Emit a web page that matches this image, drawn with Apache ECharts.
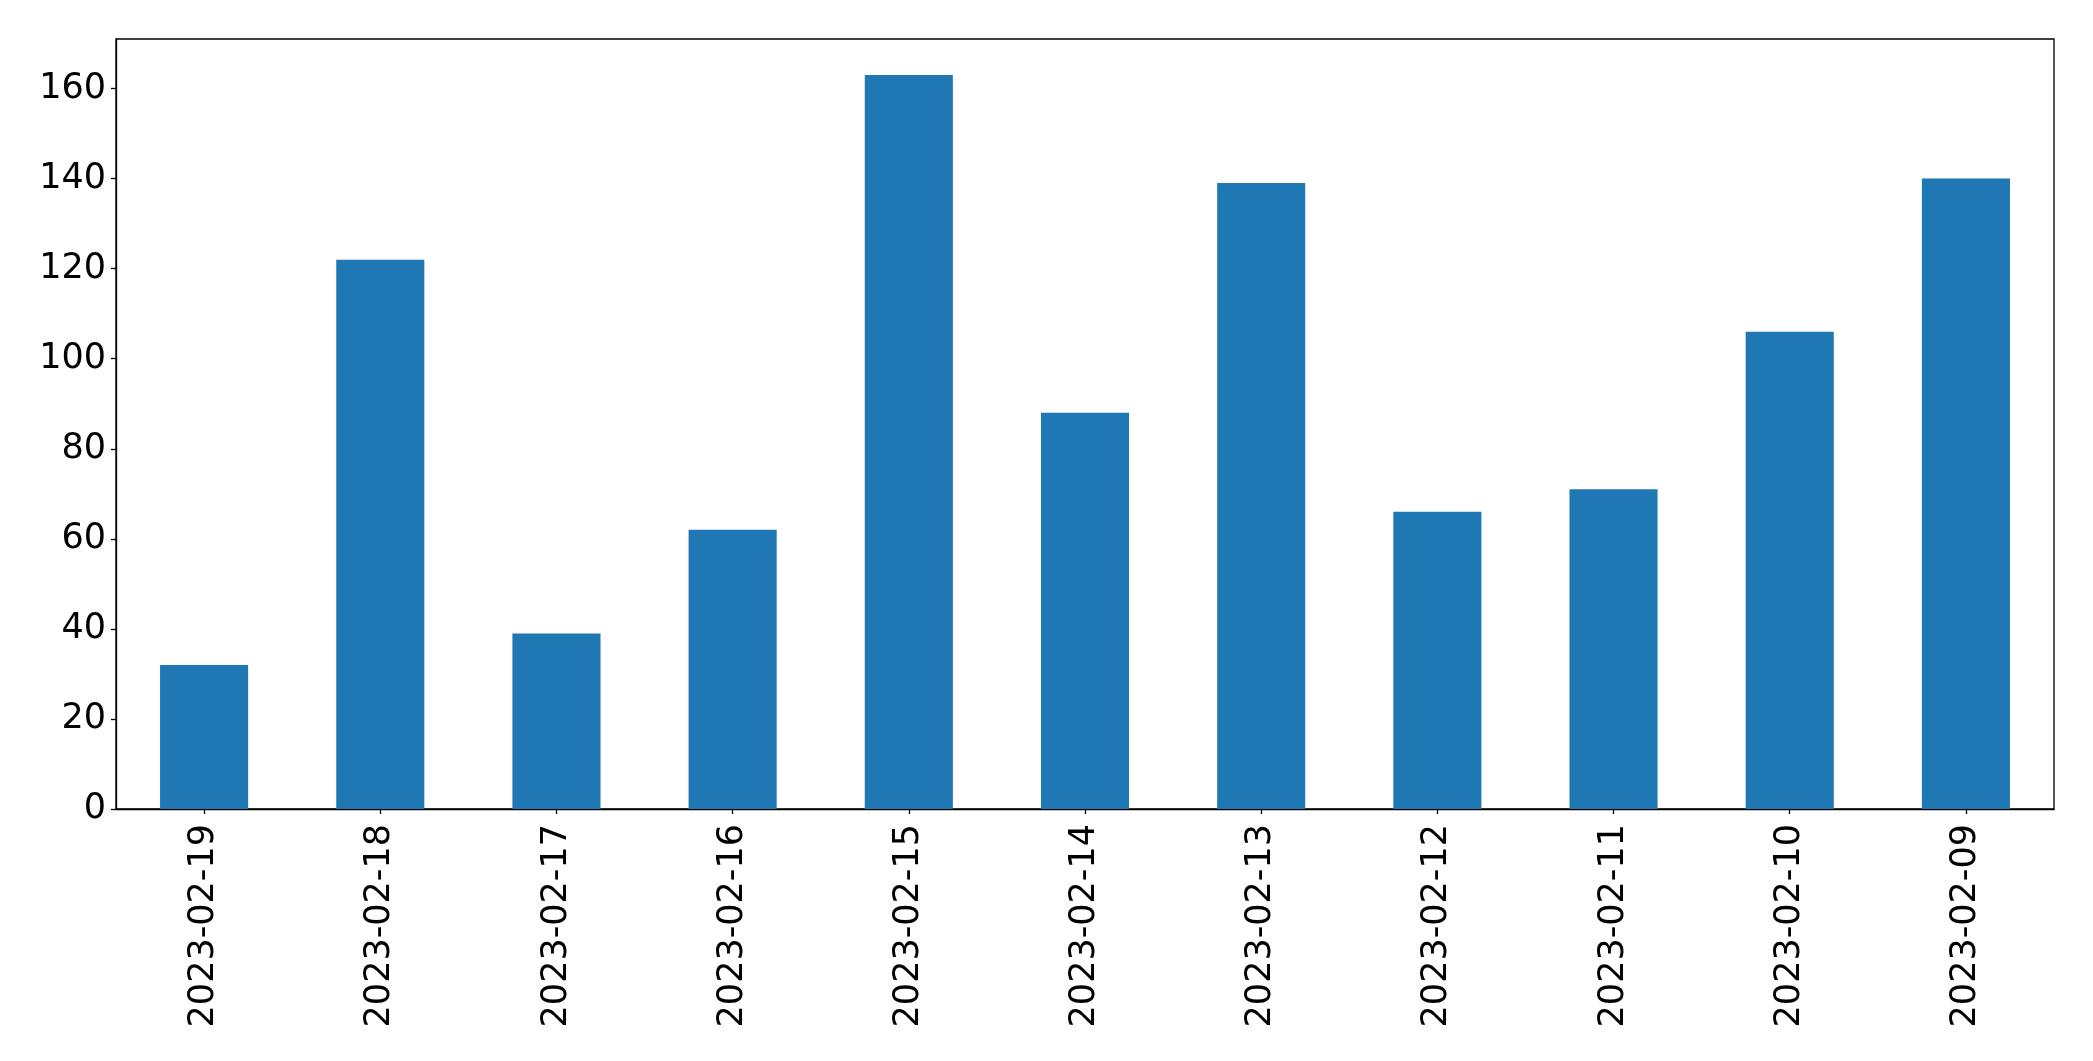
<!DOCTYPE html>
<html>
<head>
<meta charset="utf-8">
<script src="https://cdn.jsdelivr.net/npm/echarts@6/dist/echarts.min.js"></script>
<style>
html,body{margin:0;padding:0;background:#fff;}
#chart{width:2093px;height:1061px;}
</style>
</head>
<body>
<div id="chart"></div>
<script>
const categories = ["2023-02-19","2023-02-18","2023-02-17","2023-02-16","2023-02-15","2023-02-14","2023-02-13","2023-02-12","2023-02-11","2023-02-10","2023-02-09"];
const values = [32, 122, 39, 62, 163, 88, 139, 66, 71, 106, 140];
const yMin = 0, yMax = 171, yInterval = 20;

const chart = echarts.init(document.getElementById('chart'), null, {renderer: 'canvas'});
const font = "'DejaVu Sans'";
chart.setOption({
  animation: false,
  backgroundColor: '#ffffff',
  grid: {
    left: 116, right: 39, top: 39, bottom: 252,
    show: true, borderColor: '#000', borderWidth: 1.3, backgroundColor: 'transparent'
  },
  xAxis: {
    type: 'category',
    data: categories,
    boundaryGap: true,
    axisLine: {show: true, lineStyle: {color: '#000', width: 1.3}},
    axisTick: {show: true, alignWithLabel: true, length: 5, lineStyle: {color: '#000', width: 1.3}},
    axisLabel: {rotate: 90, margin: 15, color: '#000', fontFamily: font, fontSize: 35, interval: 0},
    splitLine: {show: false}
  },
  yAxis: {
    type: 'value',
    min: yMin, max: yMax, interval: yInterval,
    axisLine: {show: true, lineStyle: {color: '#000', width: 1.3}},
    axisTick: {show: true, length: 5, lineStyle: {color: '#000', width: 1.3}},
    axisLabel: {margin: 10, color: '#000', fontFamily: font, fontSize: 35, showMaxLabel: false},
    splitLine: {show: false}
  },
  series: [{
    type: 'bar',
    data: values,
    barWidth: '50%',
    itemStyle: {color: '#1f77b4'}
  }]
});
</script>
</body>
</html>
